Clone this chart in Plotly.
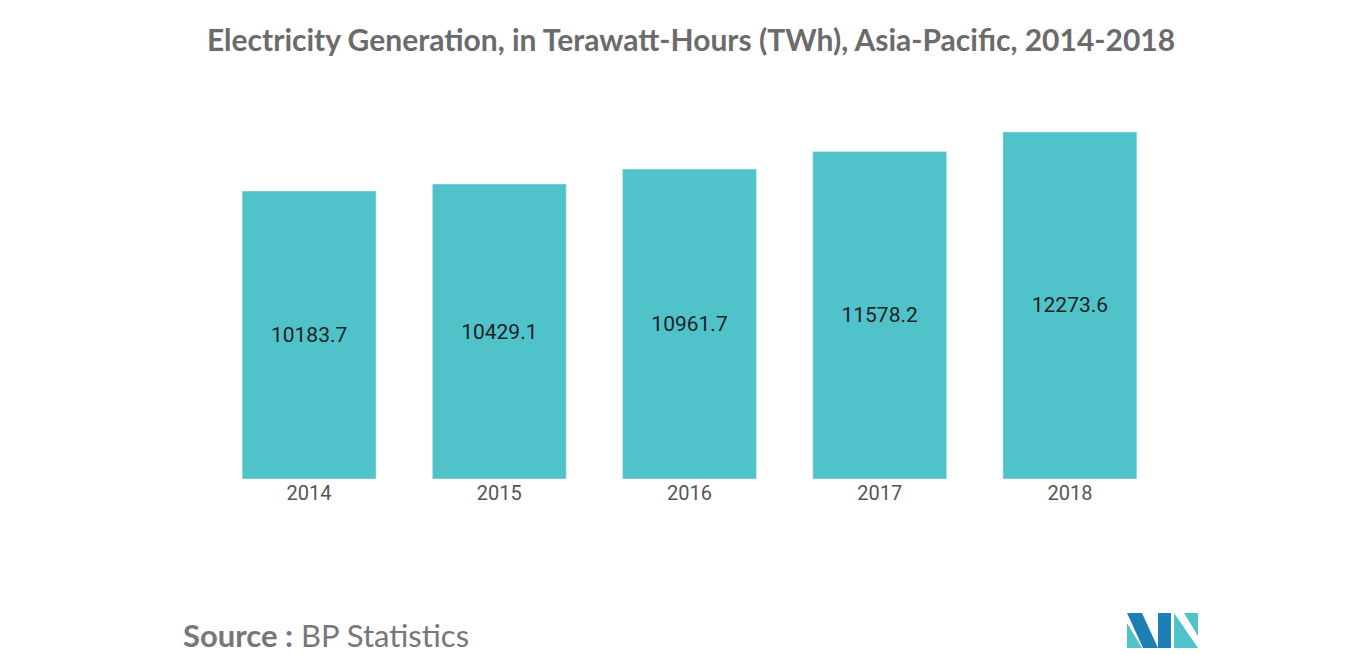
import plotly.graph_objects as go

years = ["2014", "2015", "2016", "2017", "2018"]
values = [10183.7, 10429.1, 10961.7, 11578.2, 12273.6]
labels = ["10183.7", "10429.1", "10961.7", "11578.2", "12273.6"]

W, H = 1366, 655
fig = go.Figure(go.Bar(
    x=years, y=values, text=labels, textposition="inside", insidetextanchor="middle",
    textfont=dict(family="Roboto", size=21, color="#222222"),
    marker=dict(color="#4fc3c9"), width=0.704, hoverinfo="skip"))

fig.update_layout(
    width=W, height=H, autosize=False,
    paper_bgcolor="white", plot_bgcolor="white",
    margin=dict(l=0, r=0, t=0, b=0),
    showlegend=False,
    title=dict(text="<b>Electricity Generation, in Terawatt-Hours (TWh), Asia-Pacific, 2014-2018</b>",
               x=0.5, xanchor="center", y=1 - 32/H, yanchor="middle",
               font=dict(family="Lato", size=30, color="#6b6b6b")),
    xaxis=dict(domain=[206/W, 1157/W], showgrid=False, showline=False, ticks="",
               tickfont=dict(family="Roboto", size=20, color="#555555")),
    yaxis=dict(domain=[(H-471)/H, (H-90)/H], range=[0, 381/0.02828], visible=False),
    uniformtext=dict(mode="show", minsize=10),
)
fig.add_annotation(text="<b>Source :</b> BP Statistics", xref="paper", yref="paper",
                   x=173/W, y=1 - 627/H, xanchor="left", yanchor="middle", showarrow=False,
                   font=dict(family="Lato", size=31, color="#777777"))
# logo
def P(pts):
    return "M" + " L".join(f"{x/W},{1-y/H}" for x, y in pts) + " Z"
logo = [
    ([(1119,605),(1134,605),(1150,640),(1135,640)], "#1e7fb4"),
    ([(1119,615),(1134,640),(1119,640)], "#4fc3c9"),
    ([(1150,605),(1163,605),(1163,640),(1150,640)], "#1e7fb4"),
    ([(1166,605),(1190,640),(1166,640)], "#4fc3c9"),
    ([(1176,605),(1190,605),(1190,628)], "#4fc3c9"),
]
for pts, c in logo:
    fig.add_shape(type="path", path=P(pts), xref="paper", yref="paper",
                  fillcolor=c, line=dict(width=0))
fig.write_html("out.html")
